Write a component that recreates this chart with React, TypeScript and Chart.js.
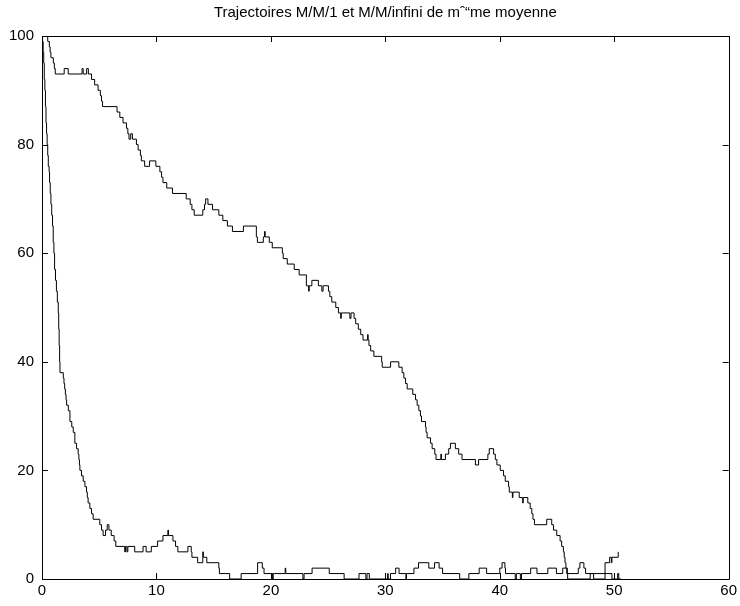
import React, { useEffect, useRef } from "react";
import { Chart, registerables } from "chart.js";
Chart.register(...registerables);

const chartTitle = "Trajectoires M/M/1 et M/M/infini de mˆ“me moyenne";
const xTickValues = [0, 10, 20, 30, 40, 50, 60];
const yTickValues = [0, 20, 40, 60, 80, 100];

// M/M/1 trajectory (step function: value holds from x until next x)
const mm1X = [0,0.5,0.64,0.71,0.78,0.99,1.08,1.16,1.94,2.29,3.5,3.6,3.9,4.05,4.33,4.6,4.9,5.1,5.2,5.29,6.56,6.8,7.08,7.38,7.5,7.6,7.75,7.9,8.25,8.4,8.6,8.68,8.97,9.4,9.95,10.3,10.45,10.57,10.9,11.4,12.6,12.95,13.1,13.3,14.05,14.2,14.3,14.5,14.9,15.45,15.8,16.2,16.64,17.6,18.73,18.82,19.34,19.45,19.5,19.86,20.12,21.0,21.08,21.43,22.04,22.47,23.1,23.3,23.35,23.58,24.15,24.45,24.56,25.03,25.15,25.32,25.67,25.9,26.1,26.15,26.9,27.0,27.27,27.41,27.64,27.85,28.05,28.45,28.5,28.57,28.72,29.0,29.68,29.73,30.46,31.18,31.47,31.62,31.77,31.91,32.4,32.64,32.78,32.93,33.07,33.16,33.51,33.56,33.65,33.95,34.09,34.32,34.43,34.85,34.9,35.25,35.54,35.69,36.12,36.41,36.7,37.87,38.15,38.96,39.08,39.46,39.61,39.75,40.04,40.33,40.48,40.77,40.83,41.1,41.15,41.7,42.0,42.05,42.45,42.66,42.8,42.9,43.03,44.1,44.54,44.69,44.98,45.27,45.41,45.56,45.63,45.7,45.78,45.85,45.93,47.9,48.2,49.2,49.8,50.3,50.4,50.6];
const mm1Y = [100,99,98,97,96,95,94,93,94,93,94,93,94,93,92,91,90,89,88,87,86,85,84,83,82,81,82,81,80,79,78,77,76,77,76,75,74,73,72,71,70,69,68,67,68,69,70,69,68,67,66,65,64,65,63,62,63,64,63,62,61,60,59,58,57,56,54,53,54,55,54,53,54,53,52,51,50,49,48,49,48,49,48,47,46,45,44,45,44,43,42,41,40,39,40,39,38,37,36,35,34,33,32,31,30,29,28,27,26,25,24,23,22,23,22,23,24,25,24,23,22,21,22,23,24,23,22,21,20,19,18,17,16,15,16,15,14,15,14,13,12,11,10,11,10,9,8,7,6,5,4,3,2,1,0,1,0,1,0,1,0,0];

// M/M/infini trajectory
const mminfX = [0,0.05,0.1,0.15,0.2,0.25,0.3,0.35,0.4,0.45,0.5,0.55,0.62,0.66,0.72,0.78,0.85,0.92,0.98,1.04,1.1,1.18,1.26,1.34,1.42,1.46,1.5,1.54,1.57,1.86,1.92,1.98,2.04,2.1,2.15,2.3,2.44,2.6,2.73,2.87,3.02,3.16,3.22,3.27,3.31,3.45,3.6,3.75,3.89,3.96,4.03,4.18,4.33,4.47,5.05,5.2,5.34,5.55,5.7,5.85,6.05,6.3,6.45,7.23,7.3,7.42,7.5,8.1,8.83,9.1,9.55,10.1,10.57,11.0,11.05,11.44,11.67,11.87,12.75,13.04,13.1,13.6,14.05,14.1,14.4,15.45,15.5,16.4,17.4,18.84,19.25,19.4,20.15,20.2,21.25,21.3,22.8,22.9,23.6,25.1,26.4,27.7,28.3,28.4,28.6,30.2,30.25,30.45,30.9,31.2,31.8,31.85,32.5,32.9,33.8,34.3,34.7,35.0,36.5,37.3,38.2,38.85,40.0,40.2,40.45,40.5,41.35,41.45,41.8,41.9,42.7,43.25,44.2,44.95,45.5,45.9,46.86,47.0,47.35,47.5,49.2,49.6,49.75,49.8,50.35];
const mminfY = [100,99,97,95,92,90,87,84,82,80,78,76,75,73,71,69,67,65,62,60,57,55,53,51,49,46,43,40,38,37,36,35,34,33,32,31,29,28,27,25,24,23,22,21,20,19,18,17,16,15,14,13,12,11,10,9,8,9,10,9,8,7,6,5,6,5,6,5,6,5,6,7,8,9,8,7,6,5,6,5,4,3,5,4,3,2,1,0,1,3,2,1,0,1,2,1,0,1,2,1,0,1,0,1,0,1,0,1,2,1,0,1,2,3,2,3,2,1,0,1,2,1,2,3,2,1,0,1,0,1,2,1,2,1,2,1,2,3,2,1,3,4,3,4,5];

const toPoints = (xs: number[], ys: number[]) => xs.map((x, i) => ({ x, y: ys[i] }));

const FONT = "'Liberation Sans', Arial, Helvetica, sans-serif";

const framePlugin = {
  id: "frameTicks",
  afterDraw(chart: any) {
    const { ctx, chartArea } = chart;
    const { left, right, top, bottom } = chartArea;
    const xs = chart.scales.x;
    const ys = chart.scales.y;
    const len = 6;
    ctx.save();
    ctx.strokeStyle = "#000";
    ctx.lineWidth = 1;
    ctx.beginPath();
    ctx.rect(Math.round(left) + 0.5, Math.round(top) + 0.5, Math.round(right - left), Math.round(bottom - top));
    xTickValues.forEach((v) => {
      const px = Math.round(xs.getPixelForValue(v)) + 0.5;
      ctx.moveTo(px, bottom);
      ctx.lineTo(px, bottom - len);
      ctx.moveTo(px, top);
      ctx.lineTo(px, top + len);
    });
    yTickValues.forEach((v) => {
      const py = Math.round(ys.getPixelForValue(v)) + 0.5;
      ctx.moveTo(left, py);
      ctx.lineTo(left + len, py);
      ctx.moveTo(right, py);
      ctx.lineTo(right - len, py);
    });
    ctx.stroke();
    ctx.restore();
  },
};

export default function App() {
  const ref = useRef<HTMLCanvasElement | null>(null);
  useEffect(() => {
    if (!ref.current) return;
    const chart = new Chart(ref.current, {
      type: "line",
      data: {
        datasets: [
          {
            label: "M/M/1",
            data: toPoints(mm1X, mm1Y),
            borderColor: "#000",
            borderWidth: 1,
            pointRadius: 0,
            stepped: true,
            fill: false,
          },
          {
            label: "M/M/infini",
            data: toPoints(mminfX, mminfY),
            borderColor: "#000",
            borderWidth: 1,
            pointRadius: 0,
            stepped: true,
            fill: false,
          },
        ],
      },
      options: {
        animation: false,
        responsive: false,
        maintainAspectRatio: false,
        layout: { padding: { left: 0, right: 9, top: 0, bottom: 0 } },
        plugins: {
          legend: { display: false },
          tooltip: { enabled: false },
          title: {
            display: true,
            text: chartTitle,
            fullSize: false,
            color: "#000",
            font: { family: FONT, size: 15, weight: "normal", lineHeight: 1.2 },
            padding: { top: 4, bottom: 14 },
          },
        },
        scales: {
          x: {
            type: "linear",
            min: 0,
            max: 60,
            afterBuildTicks: (s: any) => {
              s.ticks = xTickValues.map((v) => ({ value: v }));
            },
            afterFit: (s: any) => {
              s.height = 27;
            },
            grid: { display: false, drawTicks: false },
            border: { display: false },
            ticks: {
              color: "#000",
              padding: 3,
              maxRotation: 0,
              font: { family: FONT, size: 15 },
              callback: (v: any) => String(v),
            },
          },
          y: {
            type: "linear",
            min: 0,
            max: 100,
            afterBuildTicks: (s: any) => {
              s.ticks = yTickValues.map((v) => ({ value: v }));
            },
            afterFit: (s: any) => {
              s.width = 42;
            },
            grid: { display: false, drawTicks: false },
            border: { display: false },
            ticks: {
              color: "#000",
              padding: 8,
              font: { family: FONT, size: 15 },
              callback: (v: any) => String(v),
            },
          },
        },
      },
      plugins: [framePlugin],
    });
    return () => chart.destroy();
  }, []);
  return (
    <div style={{ position: "absolute", left: 0, top: 0, width: 740, height: 606, background: "#fff" }}>
      <canvas ref={ref} width={740} height={606} style={{ width: 740, height: 606 }} />
    </div>
  );
}
